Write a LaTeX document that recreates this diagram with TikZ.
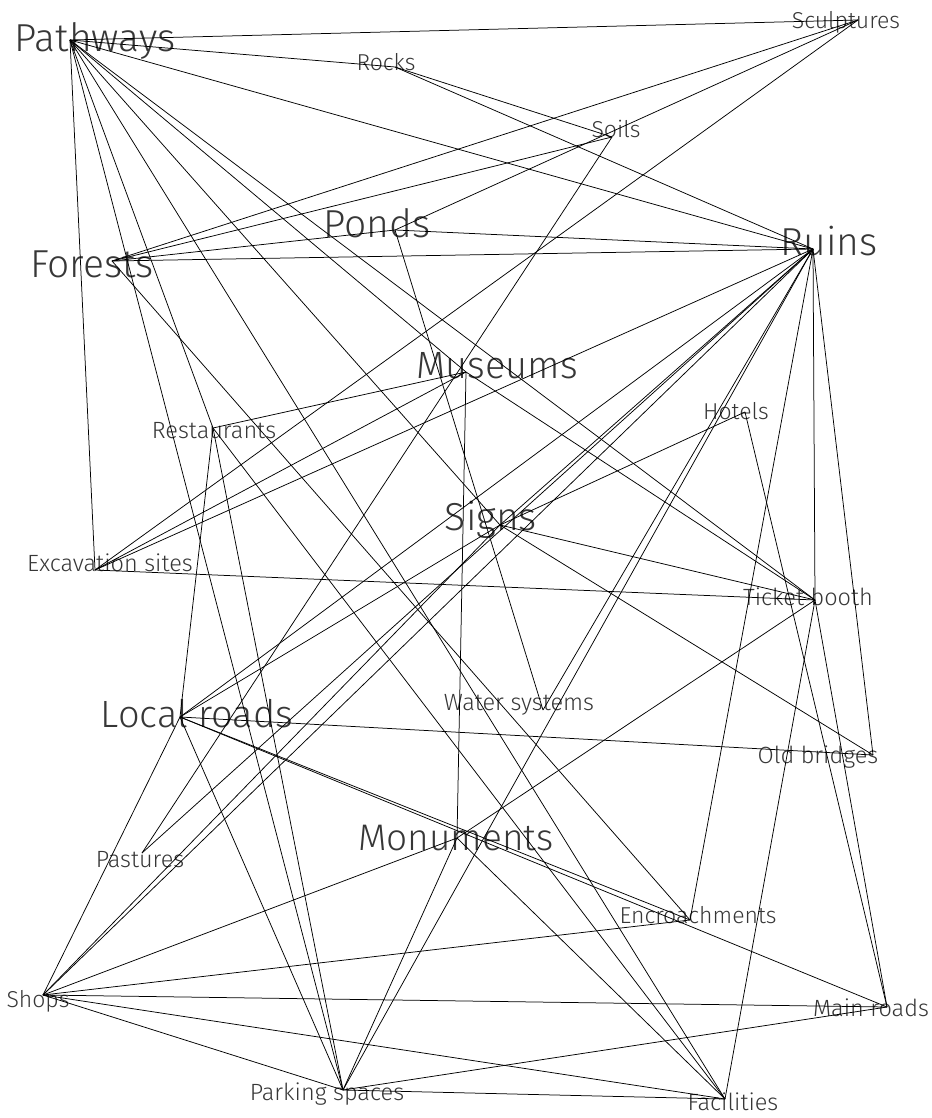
\documentclass[tikz,border=0pt]{standalone}
\usepackage{fontspec}
\setmainfont{Fira Sans}[UprightFont={* Light}]
\usetikzlibrary{positioning}
\definecolor{inktext}{RGB}{55,55,55}
\tikzset{
  link/.style={draw=black,line width=0.75pt},
  lbl/.style={anchor=base,inner sep=0pt,text=inktext,font=\fontsize{#1}{#1}\selectfont},
  lbl/.default=23,
}
\begin{document}
\begin{tikzpicture}[x=1pt,y=-1pt]
  \useasboundingbox (0,0) rectangle (931,1118);
  % hubs and their labels
  \foreach \n/\hx/\hy/\lx/\ly/\s/\t in {
    pathways/70/40/95/52/39/Pathways,
    sculptures/858/20/846/29/23/Sculptures,
    rocks/395/67/386/71/23/Rocks,
    soils/612/137/616/138/23/Soils,
    ponds/395/230/377/237/39/Ponds,
    ruins/813/249/829/255/39/Ruins,
    forests/112/261/92/277/39/Forests,
    museums/466/372/497/378/38/Museums,
    restaurants/213/428/214/438/23.5/Restaurants,
    hotels/745/412/736/419/23/Hotels,
    signs/500/525/491/530/39/Signs,
    excavation/95/570/110/571/23.5/Excavation sites,
    ticket/815/600/808/605/23.5/Ticket booth,
    localroads/180/717/197/727/38/Local roads,
    water/543/710/519/710/23.5/Water systems,
    bridges/873/755/818/763/23.5/Old bridges,
    monuments/457/838/456/850/37/Monuments,
    pastures/142/853/140/867/23.5/Pastures,
    encroach/690/920/698/923/23/Encroachments,
    shops/43/995/38/1007/23/Shops,
    mainroads/887/1007/871/1016/23.5/Main roads,
    parking/343/1090/327/1100/23.5/Parking spaces,
    facilities/725/1099/733/1110/23.5/Facilities}{
    \coordinate (\n) at (\hx,\hy);
    \node[lbl=\s] (\n-t) at (\lx,\ly) {\t};
  }
  % links
  \foreach \a/\b in {pathways/sculptures,pathways/rocks,pathways/ruins,pathways/excavation,
    pathways/parking,pathways/restaurants,pathways/facilities,pathways/signs,pathways/museums,
    pathways/ticket,rocks/soils,rocks/ruins,sculptures/forests,sculptures/ponds,
    sculptures/excavation,soils/forests,soils/pastures,ponds/ruins,ponds/water,ponds/forests,
    forests/ruins,forests/encroach,excavation/museums,excavation/ruins,excavation/ticket,
    restaurants/museums,restaurants/localroads,restaurants/parking,restaurants/facilities,
    museums/monuments,museums/ticket,ruins/ticket,ruins/localroads,ruins/signs,ruins/pastures,
    ruins/shops,ruins/parking,ruins/water,ruins/encroach,ruins/bridges,hotels/signs,
    hotels/mainroads,signs/ticket,signs/bridges,signs/localroads,signs/shops,ticket/monuments,
    ticket/facilities,ticket/mainroads,localroads/bridges,localroads/encroach,
    localroads/mainroads,localroads/parking,localroads/shops,monuments/shops,
    monuments/facilities,monuments/parking,shops/encroach,shops/mainroads,shops/facilities,
    shops/parking,parking/facilities,parking/mainroads}
    \draw[link] (\a) -- (\b);
\end{tikzpicture}
\end{document}
